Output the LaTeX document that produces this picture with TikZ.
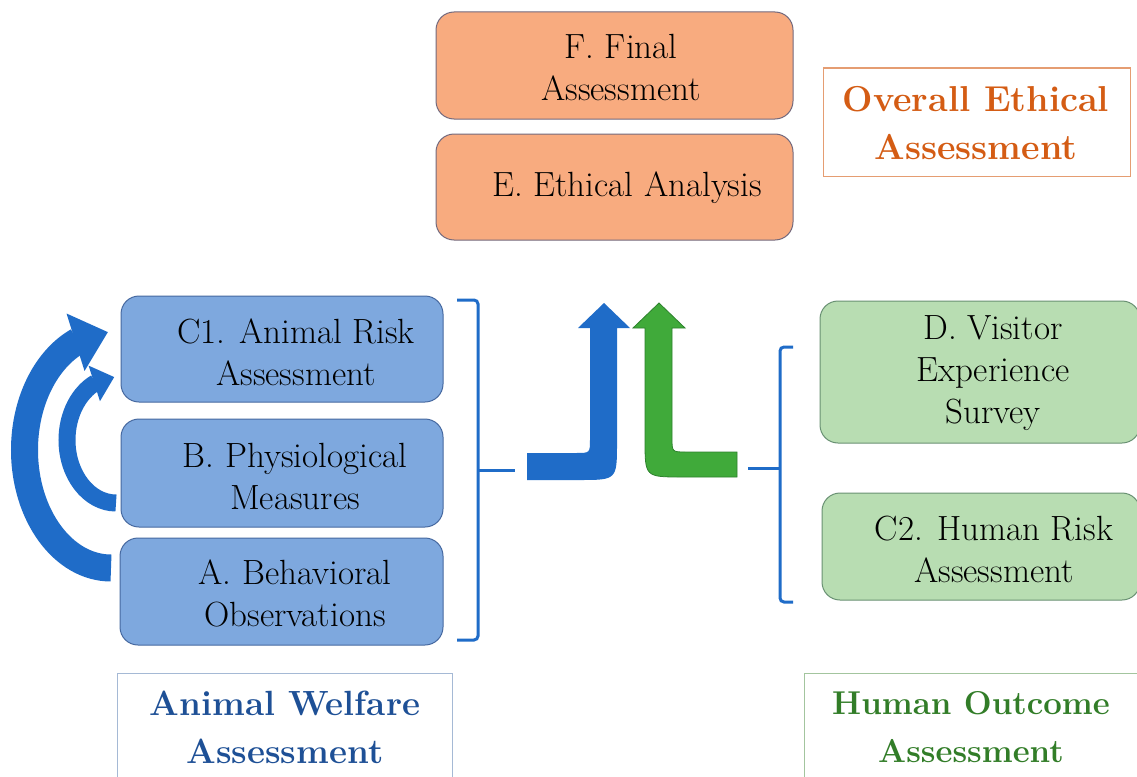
\documentclass[tikz,border=0pt]{standalone}
\usetikzlibrary{arrows.meta,bending}
\definecolor{boxblue}{RGB}{126,168,222}
\definecolor{boxblueline}{RGB}{70,105,160}
\definecolor{boxgreen}{RGB}{184,221,178}
\definecolor{boxgreenline}{RGB}{105,145,115}
\definecolor{boxorange}{RGB}{248,171,127}
\definecolor{boxorangeline}{RGB}{115,105,125}
\definecolor{arrowblue}{RGB}{31,108,200}
\definecolor{arrowgreen}{RGB}{64,170,58}
\definecolor{arrowgreenline}{RGB}{45,130,45}
\definecolor{titleorange}{RGB}{212,92,20}
\definecolor{titleblue}{RGB}{30,80,150}
\definecolor{titlegreen}{RGB}{50,125,40}
\begin{document}
\begin{tikzpicture}[x=1pt,y=-1pt,
  stepbox/.style={rectangle, rounded corners=18pt, draw, line width=1pt, inner sep=0pt},
  bluebox/.style={stepbox, fill=boxblue, draw=boxblueline},
  greenbox/.style={stepbox, fill=boxgreen, draw=boxgreenline},
  orangebox/.style={stepbox, fill=boxorange, draw=boxorangeline},
  boxtext/.style={align=center, inner sep=0pt, font=\fontsize{35}{42}\selectfont},
  titlebox/.style={rectangle, draw, line width=1pt, fill=white, inner sep=0pt},
  titletext/.style={align=center, inner sep=0pt, font=\bfseries\fontsize{#1}{48}\selectfont},
  brace/.style={draw=arrowblue, line width=3pt, rounded corners=4pt},
]
\clip (0,0) rectangle (1137,776);
\fill[white] (0,0) rectangle (1137,776);

% top orange boxes
\node[orangebox, minimum width=357pt, minimum height=107pt] (f) at (614.5,65.5) {};
\node[boxtext] (ft) at (621,67) {F. Final\\Assessment};
\node[orangebox, minimum width=357pt, minimum height=106pt] (e) at (614.5,187) {};
\node[boxtext] (et) at (627,188) {E. Ethical Analysis};

% overall title
\node[titlebox, draw=titleorange!60, minimum width=307pt, minimum height=108pt] (ov) at (976.5,122) {};
\node[titletext=36, text=titleorange] (ovt) at (976,123) {Overall Ethical\\Assessment};

% left blue boxes
\node[bluebox, minimum width=322pt, minimum height=106pt] (c1) at (282,349) {};
\node[boxtext] (c1t) at (296,352) {C1. Animal Risk\\Assessment};
\node[bluebox, minimum width=322pt, minimum height=108pt] (b) at (282,473) {};
\node[boxtext] (bt) at (295,476) {B. Physiological\\Measures};
\node[bluebox, minimum width=323pt, minimum height=107pt] (a) at (281.5,591.5) {};
\node[boxtext] (at) at (295,593) {A. Behavioral\\Observations};

% right green boxes
\node[greenbox, minimum width=320pt, minimum height=142pt] (d) at (980,372) {};
\node[boxtext] (dt) at (993,373) {D. Visitor\\Experience\\Survey};
\node[greenbox, minimum width=318pt, minimum height=107pt] (c2) at (981,546.5) {};
\node[boxtext] (c2t) at (994,549) {C2. Human Risk\\Assessment};

% bottom titles
\node[titlebox, draw=titleblue!40, minimum width=335pt, minimum height=117pt] (aw) at (284.5,731.5) {};
\node[titletext=35, text=titleblue] (awt) at (285,727) {Animal Welfare\\Assessment};
\node[titlebox, draw=titlegreen!45, minimum width=341pt, minimum height=117pt] (ho) at (974.5,731.5) {};
\node[titletext=33, text=titlegreen] (hot) at (971,727) {Human Outcome\\Assessment};

% brackets
\coordinate (lbt) at (515,470);
\coordinate (rbt) at (748,468);
\draw[brace] (457,300) -- (478,300) -- (478,640) -- (457,640);
\draw[brace, rounded corners=0pt] (478,470) -- (lbt);
\draw[brace] (793,347) -- (780,347) -- (780,602) -- (793,602);
\draw[brace, rounded corners=0pt] (780,468) -- (rbt);

% central bent arrows
\fill[arrowblue] (527,453) -- (576,453) .. controls (590,453) .. (590,439)
  -- (590,328) -- (578,328) -- (604,303) -- (630,328) -- (617,328)
  -- (617,442) .. controls (617,480) .. (579,480) -- (527,480) -- cycle;
\filldraw[fill=arrowgreen, draw=arrowgreenline, line width=0.8pt]
  (659,303) -- (685,328) -- (672,328) -- (672,438) .. controls (672,452) .. (686,452)
  -- (737,452) -- (737,477) -- (682,477) .. controls (645,477) .. (645,440)
  -- (645,328) -- (633,328) -- cycle;

% curved feedback arrows (A -> C1, B -> C1)
\draw[arrowblue, line width=27pt, -{Triangle[length=34pt,width=58pt]}]
  (111,568) arc[start angle=90, end angle=268, x radius=86.5, y radius=118];
\draw[arrowblue, line width=17pt, -{Triangle[length=21pt,width=36pt]}]
  (116,503) arc[start angle=90, end angle=268, x radius=49, y radius=63];
\end{tikzpicture}
\end{document}
